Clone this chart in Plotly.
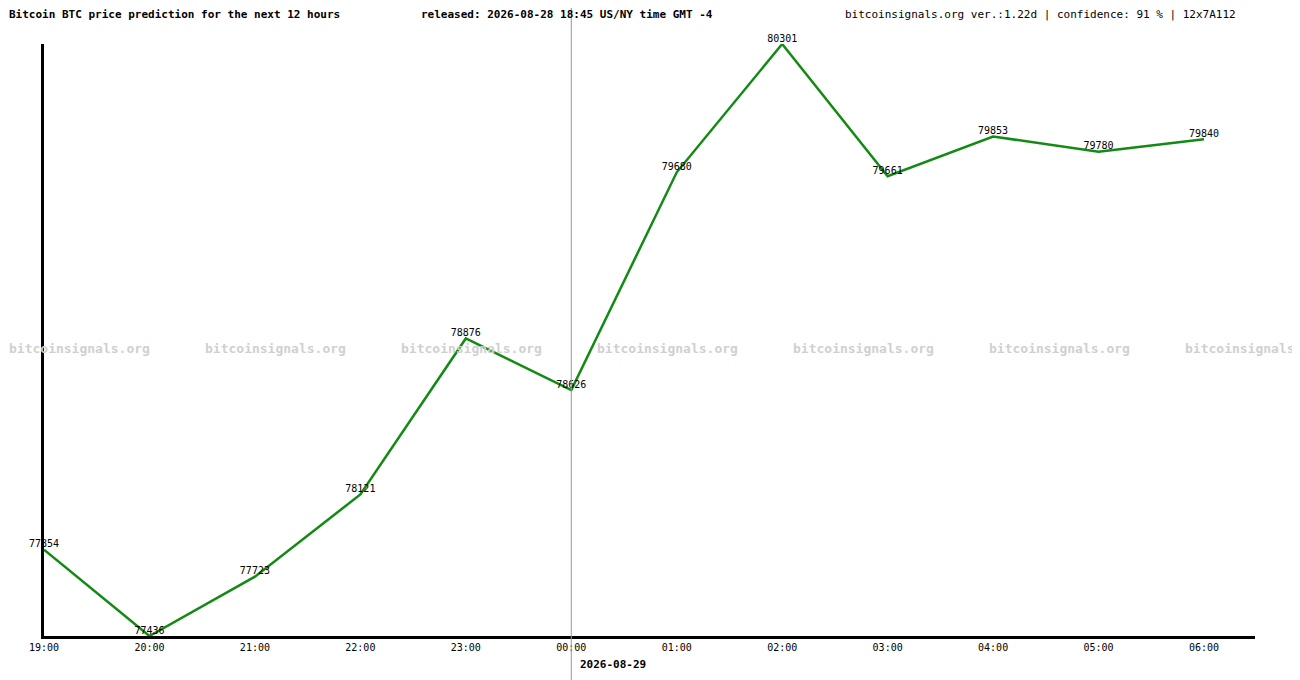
import plotly.graph_objects as go

hours = ["19:00","20:00","21:00","22:00","23:00","00:00","01:00","02:00","03:00","04:00","05:00","06:00"]
prices = [77854, 77436, 77723, 78121, 78876, 78626, 79680, 80301, 79661, 79853, 79780, 79840]
title_left = "Bitcoin BTC price prediction for the next 12 hours"
title_mid = "released: 2026-08-28 18:45 US/NY time GMT -4"
title_right = "bitcoinsignals.org ver.:1.22d | confidence: 91 % | 12x7A112"
date_label = "2026-08-29"
watermark = "bitcoinsignals.org"

OFF = 8  # page body margin
W, H = 1292, 672
PL, PT, PR, PB = 44, 44, 1255, 636  # plot box in page pixels
L, T = PL - OFF, PT - OFF
R = W - (PR - OFF)
B = H - (PB - OFF)
plot_w, plot_h = PR - PL, PB - PT
xs = list(range(len(hours)))
FONT = "DejaVu Sans Mono, Liberation Mono, monospace"

def px(xp): return (xp - PL) / plot_w
def py(yp): return (PB - yp) / plot_h

fig = go.Figure()
fig.add_trace(go.Scatter(x=xs, y=prices, mode="lines+text", text=[str(p) for p in prices],
                         textposition="top center", textfont=dict(size=10, color="black", family=FONT),
                         line=dict(color="#138a13", width=2.5), cliponaxis=False, hoverinfo="skip"))

ann = []
for i in range(7):
    ann.append(dict(x=px(7 + 196 * i), y=py(349), xref="paper", yref="paper", text="<b>" + watermark + "</b>",
                    showarrow=False, xanchor="left", yanchor="middle",
                    font=dict(size=13, color="#d0d0d0", family=FONT)))
ann += [
    dict(x=px(7), y=py(14), text="<b>" + title_left + "</b>", xanchor="left"),
    dict(x=px(419), y=py(14), text="<b>" + title_mid + "</b>", xanchor="left"),
    dict(x=px(843), y=py(14), text=title_right, xanchor="left"),
    dict(x=px(578), y=py(664), text="<b>" + date_label + "</b>", xanchor="left"),
]
for a in ann[7:]:
    a.update(xref="paper", yref="paper", showarrow=False, yanchor="middle",
             font=dict(size=11, color="black", family=FONT))

span = 11 * plot_w / (1204 - 44)
fig.update_layout(
    width=W, height=H, margin=dict(l=L, r=R, t=T, b=B),
    paper_bgcolor="white", plot_bgcolor="white", showlegend=False,
    annotations=ann,
    xaxis=dict(range=[0, span], tickvals=xs, ticktext=hours, showgrid=False, zeroline=False,
               showline=True, linecolor="black", linewidth=3, ticks="",
               tickfont=dict(size=10, family=FONT, color="black")),
    yaxis=dict(range=[min(prices), max(prices)], showgrid=False, zeroline=False, showticklabels=False,
               showline=True, linecolor="black", linewidth=3, ticks=""),
    shapes=[dict(type="line", xref="x", yref="paper", x0=5, x1=5, y0=py(H + OFF), y1=py(0),
                 line=dict(color="#999999", width=1))],
)
fig.write_html("out.html")
